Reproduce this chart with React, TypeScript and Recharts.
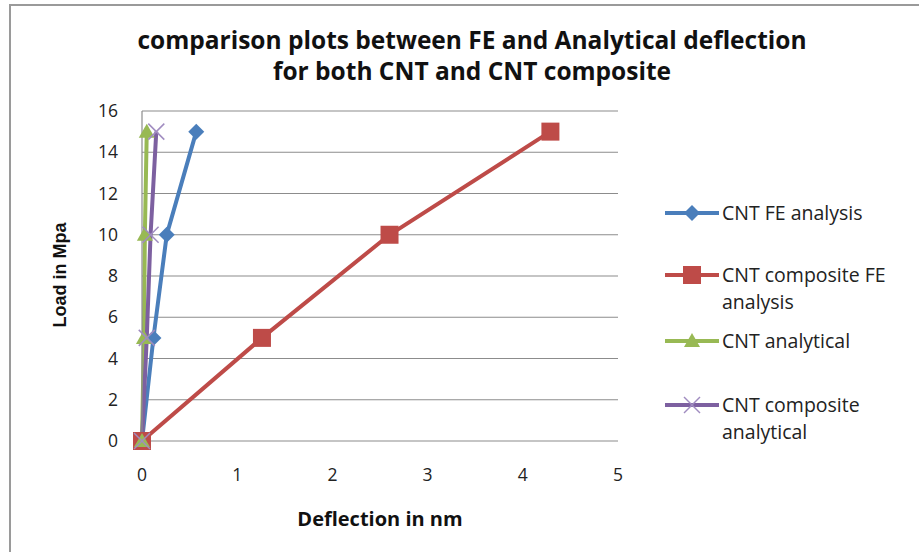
import React from 'react';
import { LineChart, Line, XAxis, YAxis, CartesianGrid } from 'recharts';

const titleLines = ['comparison plots between FE and Analytical deflection', 'for both CNT and CNT composite'];
const xAxisTitle = 'Deflection in nm';
const yAxisTitle = 'Load in Mpa';
const xTicks = [0, 1, 2, 3, 4, 5];
const yTicks = [0, 2, 4, 6, 8, 10, 12, 14, 16];

const cntFE = [
  { x: 0, y: 0 },
  { x: 0.12, y: 5 },
  { x: 0.26, y: 10 },
  { x: 0.57, y: 15 },
];
const cntCompositeFE = [
  { x: 0, y: 0 },
  { x: 1.26, y: 5 },
  { x: 2.6, y: 10 },
  { x: 4.29, y: 15 },
];
const cntAnalytical = [
  { x: 0, y: 0 },
  { x: 0.02, y: 5 },
  { x: 0.03, y: 10 },
  { x: 0.05, y: 15 },
];
const cntCompositeAnalytical = [
  { x: 0, y: 0 },
  { x: 0.05, y: 5 },
  { x: 0.09, y: 10 },
  { x: 0.15, y: 15 },
];

const seriesNames = ['CNT FE analysis', 'CNT composite FE analysis', 'CNT analytical', 'CNT composite analytical'];
const colors = ['#4A7EBB', '#BE4B48', '#98B954', '#7D60A0'];
const markers = ['diamond', 'square', 'triangle', 'cross'];

const FONT = '"Open Sans", "Noto Sans", sans-serif';

function Marker({ type, cx, cy, color }: { type: string; cx: number; cy: number; color: string }) {
  if (type === 'diamond') {
    const s = 8;
    return <polygon points={`${cx},${cy - s} ${cx + s},${cy} ${cx},${cy + s} ${cx - s},${cy}`} fill={color} />;
  }
  if (type === 'square') {
    const s = 9;
    return <rect x={cx - s} y={cy - s} width={2 * s} height={2 * s} fill={color} />;
  }
  if (type === 'triangle') {
    return <polygon points={`${cx},${cy - 8} ${cx + 8},${cy + 6} ${cx - 8},${cy + 6}`} fill={color} />;
  }
  const s = 8;
  return (
    <g stroke="#A08CC0" strokeWidth={1.5}>
      <line x1={cx - s} y1={cy - s} x2={cx + s} y2={cy + s} />
      <line x1={cx - s} y1={cy + s} x2={cx + s} y2={cy - s} />
    </g>
  );
}

const makeDot = (type: string, color: string) => (props: any) => (
  <Marker key={`${type}-${props.index}`} type={type} cx={props.cx} cy={props.cy} color={color} />
);

const legendTops = [0, 62, 128, 192];

function CustomLegend() {
  return (
    <div style={{ position: 'absolute', left: 663, top: 199, width: 250, height: 260, fontFamily: FONT }}>
      {seriesNames.map((name, i) => (
        <div key={name} style={{ position: 'absolute', left: 0, top: legendTops[i], display: 'flex', alignItems: 'flex-start' }}>
          <svg width={58} height={28} style={{ flex: 'none' }}>
            <line x1={2} y1={14} x2={56} y2={14} stroke={colors[i]} strokeWidth={4} />
            <Marker type={markers[i]} cx={29} cy={14} color={colors[i]} />
          </svg>
          <div style={{ width: 178, fontSize: 19.5, lineHeight: '27px', color: '#222', marginLeft: 1 }}>{name}</div>
        </div>
      ))}
    </div>
  );
}

export default function App() {
  const seriesData = [cntFE, cntCompositeFE, cntAnalytical, cntCompositeAnalytical];
  return (
    <div style={{ position: 'absolute', left: 0, top: 0, width: 919, height: 552, overflow: 'hidden', background: '#fff' }}>
      <div style={{ position: 'absolute', left: 9, top: 4, width: 1000, height: 700, borderLeft: '2px solid #9a9a9a', borderTop: '2px solid #9a9a9a' }} />
      <div style={{ position: 'absolute', left: 22, top: 24, width: 900, textAlign: 'center', fontFamily: FONT, fontWeight: 700, fontSize: 24.5, lineHeight: '31px', color: '#111' }}>
        {titleLines.map((t) => (
          <div key={t}>{t}</div>
        ))}
      </div>
      <div style={{ position: 'absolute', left: 180, top: 505, width: 400, textAlign: 'center', fontFamily: FONT, fontWeight: 700, fontSize: 20, color: '#111' }}>
        {xAxisTitle}
      </div>
      <div style={{ position: 'absolute', left: 60, top: 275, transform: 'translate(-50%, -50%) rotate(-90deg)', whiteSpace: 'nowrap', fontFamily: '"Liberation Sans", Arial, sans-serif', fontWeight: 700, fontSize: 18, color: '#111' }}>
        {yAxisTitle}
      </div>
      <LineChart
        width={919}
        height={552}
        margin={{ top: 111, right: 301, bottom: 71, left: 0 }}
        style={{ position: 'absolute', left: 0, top: 0 }}
      >
        <CartesianGrid horizontal vertical={false} stroke="#8c8c8c" strokeWidth={1.2} />
        <XAxis
          type="number"
          dataKey="x"
          domain={[0, 5]}
          ticks={xTicks}
          height={40}
          axisLine={false}
          tickLine={false}
          tickSize={0}
          tickMargin={28}
          tick={{ fill: '#222', fontSize: 17.5, fontFamily: FONT }}
          allowDuplicatedCategory={false}
        />
        <YAxis
          type="number"
          dataKey="y"
          domain={[0, 16]}
          ticks={yTicks}
          width={142}
          axisLine={{ stroke: '#8c8c8c', strokeWidth: 1.2 }}
          tickLine={false}
          tickSize={0}
          tickMargin={24}
          tick={{ fill: '#222', fontSize: 17.5, fontFamily: FONT }}
        />
        {seriesData.map((d, i) => (
          <Line
            key={seriesNames[i]}
            data={d}
            dataKey="y"
            name={seriesNames[i]}
            type="linear"
            stroke={colors[i]}
            strokeWidth={4}
            dot={makeDot(markers[i], colors[i])}
            activeDot={false}
            isAnimationActive={false}
          />
        ))}
      </LineChart>
      <CustomLegend />
    </div>
  );
}
